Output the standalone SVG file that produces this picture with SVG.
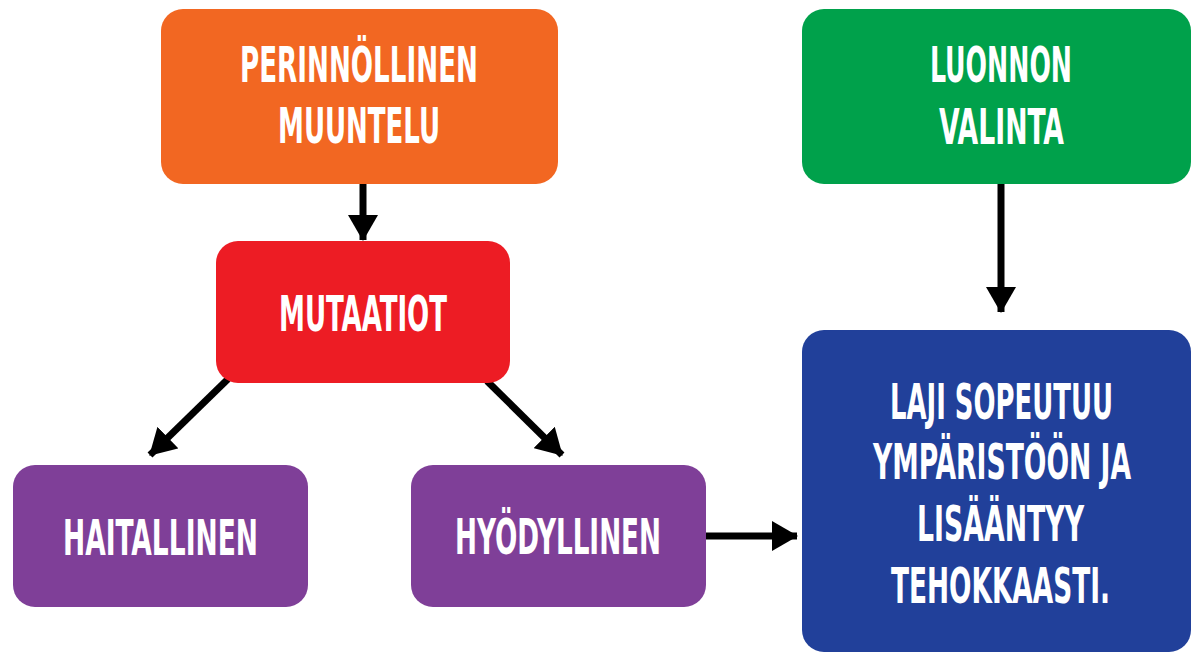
<svg xmlns="http://www.w3.org/2000/svg" width="1191" height="652" viewBox="0 0 1191 652">
<style>
.box{stroke:none}
.t{fill:#fff;font-family:"Liberation Sans Narrow","DejaVu Sans Condensed","Liberation Sans",sans-serif;font-weight:bold;font-size:50px;text-anchor:middle}
.c{stroke:#000;stroke-width:7;fill:none}
</style>
<defs>
<marker id="ah" viewBox="0 0 26 30" refX="25" refY="15" markerWidth="26" markerHeight="30" markerUnits="userSpaceOnUse" orient="auto">
<path d="M0,0 L26,15 L0,30 Z" fill="#000"/>
</marker>
</defs>
<rect width="1191" height="652" fill="#fff"/>
<g id="connectors">
<line class="c" x1="363" y1="184" x2="363" y2="240" marker-end="url(#ah)"/>
<line class="c" x1="1001" y1="184" x2="1001" y2="312" marker-end="url(#ah)"/>
<line class="c" x1="228" y1="379" x2="150" y2="455" marker-end="url(#ah)"/>
<line class="c" x1="487" y1="381" x2="562" y2="455" marker-end="url(#ah)"/>
<line class="c" x1="705" y1="536" x2="797" y2="536" marker-end="url(#ah)"/>
</g>
<g id="perinnollinen">
<rect class="box" x="161" y="9" width="397" height="175" rx="22" fill="#F26722"/>
<text class="t" x="359" y="82" textLength="238" lengthAdjust="spacingAndGlyphs">PERINNÖLLINEN</text>
<text class="t" x="359" y="143" textLength="162" lengthAdjust="spacingAndGlyphs">MUUNTELU</text>
</g>
<g id="mutaatiot">
<rect class="box" x="216" y="241" width="294" height="142" rx="22" fill="#ED1C24"/>
<text class="t" x="363" y="331" textLength="168" lengthAdjust="spacingAndGlyphs">MUTAATIOT</text>
</g>
<g id="haitallinen">
<rect class="box" x="13" y="465" width="295" height="142" rx="22" fill="#7F3F98"/>
<text class="t" x="160.5" y="555" textLength="195" lengthAdjust="spacingAndGlyphs">HAITALLINEN</text>
</g>
<g id="hyodyllinen">
<rect class="box" x="411" y="465" width="295" height="142" rx="22" fill="#7F3F98"/>
<text class="t" x="558" y="554" textLength="206" lengthAdjust="spacingAndGlyphs">HYÖDYLLINEN</text>
</g>
<g id="luonnon">
<rect class="box" x="802" y="9" width="389" height="175" rx="22" fill="#00A14B"/>
<text class="t" x="1001" y="82" textLength="142" lengthAdjust="spacingAndGlyphs">LUONNON</text>
<text class="t" x="1001.5" y="144" textLength="125" lengthAdjust="spacingAndGlyphs">VALINTA</text>
</g>
<g id="laji">
<rect class="box" x="802" y="330" width="389" height="322" rx="22" fill="#21409A"/>
<text class="t" x="1001.5" y="419" textLength="223" lengthAdjust="spacingAndGlyphs">LAJI SOPEUTUU</text>
<text class="t" x="1002" y="479" textLength="258" lengthAdjust="spacingAndGlyphs">YMPÄRISTÖÖN JA</text>
<text class="t" x="1000.5" y="541" textLength="167" lengthAdjust="spacingAndGlyphs">LISÄÄNTYY</text>
<text class="t" x="1000.5" y="603" textLength="219" lengthAdjust="spacingAndGlyphs">TEHOKKAASTI.</text>
</g>
</svg>
